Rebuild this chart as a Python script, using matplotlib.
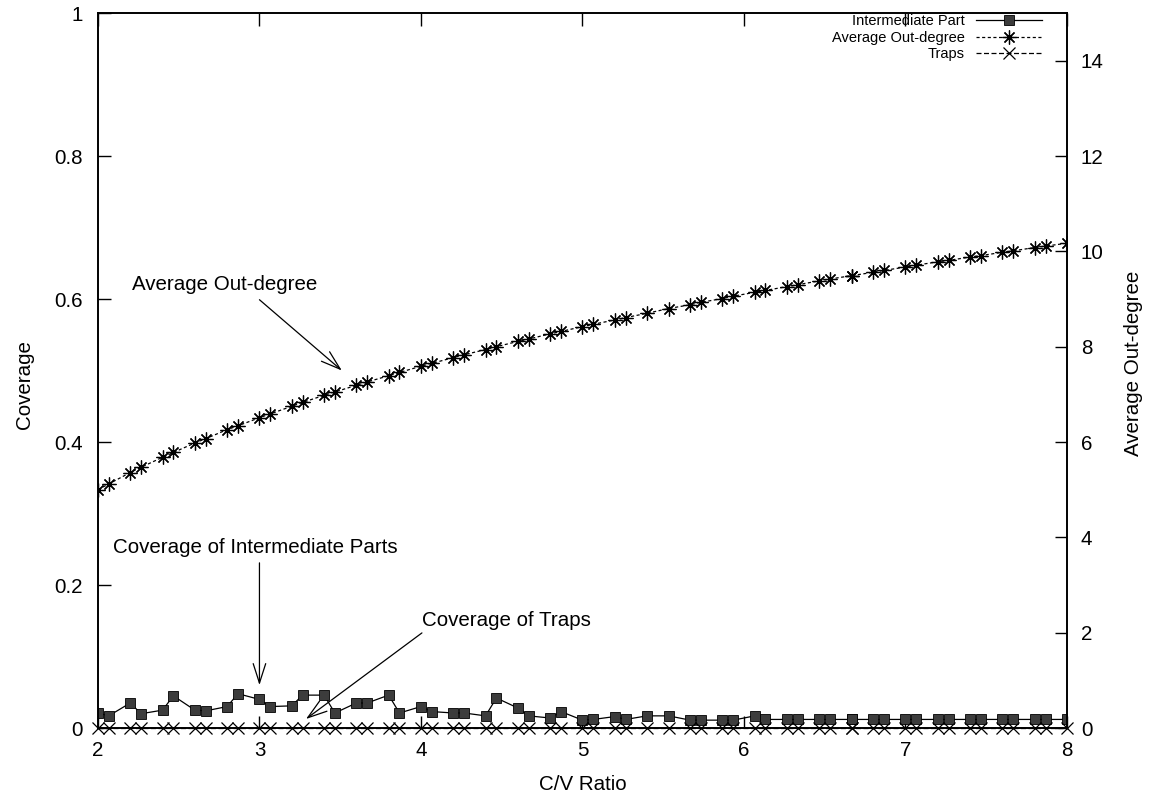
import matplotlib.pyplot as plt

plt.rcParams['font.family'] = ['Liberation Sans', 'DejaVu Sans']

# C/V ratio of each sample
ratio = [2.0, 2.067, 2.2, 2.267, 2.4, 2.467, 2.6, 2.667, 2.8, 2.867,
         3.0, 3.067, 3.2, 3.267, 3.4, 3.467, 3.6, 3.667, 3.8, 3.867,
         4.0, 4.067, 4.2, 4.267, 4.4, 4.467, 4.6, 4.667, 4.8, 4.867,
         5.0, 5.067, 5.2, 5.267, 5.4, 5.533, 5.667, 5.733, 5.867, 5.933,
         6.067, 6.133, 6.267, 6.333, 6.467, 6.533, 6.667, 6.667, 6.8, 6.867,
         7.0, 7.067, 7.2, 7.267, 7.4, 7.467, 7.6, 7.667, 7.8, 7.867,
         8.0]

# coverage of intermediate parts
inter_cov = [0.021, 0.017, 0.035, 0.020, 0.025, 0.045, 0.025, 0.024, 0.030, 0.048,
             0.040, 0.030, 0.031, 0.046, 0.046, 0.021, 0.035, 0.035, 0.046, 0.021,
             0.030, 0.023, 0.021, 0.021, 0.017, 0.042, 0.028, 0.017, 0.014, 0.023,
             0.011, 0.012, 0.016, 0.012, 0.017, 0.017, 0.011, 0.011, 0.011, 0.011,
             0.017, 0.012, 0.012, 0.012, 0.012, 0.012, 0.012, 0.012, 0.012, 0.012,
             0.012, 0.012, 0.012, 0.012, 0.012, 0.012, 0.012, 0.012, 0.012, 0.012,
             0.012]

# coverage of traps
trap_cov = [0.0, 0.0, 0.0, 0.0, 0.0, 0.0, 0.0, 0.0, 0.0, 0.0,
            0.0, 0.0, 0.0, 0.0, 0.0, 0.0, 0.0, 0.0, 0.0, 0.0,
            0.0, 0.0, 0.0, 0.0, 0.0, 0.0, 0.0, 0.0, 0.0, 0.0,
            0.0, 0.0, 0.0, 0.0, 0.0, 0.0, 0.0, 0.0, 0.0, 0.0,
            0.0, 0.0, 0.0, 0.0, 0.0, 0.0, 0.0, 0.0, 0.0, 0.0,
            0.0, 0.0, 0.0, 0.0, 0.0, 0.0, 0.0, 0.0, 0.0, 0.0,
            0.0]

# average out-degree (right axis)
out_degree = [5.00, 5.12, 5.36, 5.47, 5.68, 5.78, 5.98, 6.07, 6.26, 6.34,
              6.51, 6.59, 6.75, 6.83, 6.98, 7.05, 7.19, 7.26, 7.39, 7.46,
              7.59, 7.65, 7.77, 7.83, 7.94, 8.00, 8.11, 8.16, 8.27, 8.32,
              8.42, 8.47, 8.56, 8.61, 8.70, 8.80, 8.88, 8.93, 9.01, 9.06,
              9.14, 9.18, 9.26, 9.30, 9.38, 9.42, 9.49, 9.49, 9.56, 9.60,
              9.67, 9.71, 9.78, 9.81, 9.88, 9.91, 9.98, 10.01, 10.08, 10.11,
              10.17]

FS = 14.8

fig = plt.figure(figsize=(11.55, 7.98), dpi=100)
ax = fig.add_axes([0.0848, 0.0877, 0.839, 0.896])
ax2 = ax.twinx()

l1, = ax.plot(ratio, inter_cov, color='black', linewidth=0.9,
              marker='s', markersize=7, markerfacecolor='#3c3c3c',
              markeredgecolor='black', markeredgewidth=0.6,
              label='Intermediate Part')
l3, = ax.plot(ratio, trap_cov, color='black', linewidth=0.9,
              dashes=(4, 2), marker='x', markersize=8, markeredgewidth=0.9,
              label='Traps', clip_on=False)
l2, = ax2.plot(ratio, out_degree, color='black', linewidth=0.9,
               dashes=(2.5, 2), marker=(8, 2, 0), markersize=10,
               markeredgewidth=0.9, label='Average Out-degree')

ax.set_xlim(2, 8)
ax.set_ylim(0, 1)
ax2.set_ylim(0, 15)
ax.set_xticks([2, 3, 4, 5, 6, 7, 8])
ax.set_yticks([0, 0.2, 0.4, 0.6, 0.8, 1])
ax.set_yticklabels(['0', '0.2', '0.4', '0.6', '0.8', '1'])
ax2.set_yticks([0, 2, 4, 6, 8, 10, 12, 14])

ax.tick_params(axis='x', direction='in', length=9, width=1, top=True,
               labelsize=FS, pad=9)
ax.tick_params(axis='y', direction='in', length=9, width=1, right=False,
               labelsize=FS, pad=11)
ax2.tick_params(axis='y', direction='in', length=9, width=1,
                labelsize=FS, pad=10)
for a in (ax, ax2):
    for s in a.spines.values():
        s.set_linewidth(1.2)

ax.set_xlabel('C/V Ratio', fontsize=FS)
ax.xaxis.set_label_coords(0.5, -0.066)
ax.set_ylabel('Coverage', fontsize=FS)
ax.yaxis.set_label_coords(-0.066, 0.48)
ax2.set_ylabel('Average Out-degree', fontsize=FS)
ax2.yaxis.set_label_coords(1.059, 0.51)

arrow = dict(arrowstyle='->,head_length=1.4,head_width=0.45',
             color='black', linewidth=0.9, shrinkA=0, shrinkB=0)

ax.text(2.21, 0.62, 'Average Out-degree', fontsize=FS, va='center')
ax.annotate('', xy=(3.51, 0.50), xytext=(3.0, 0.599), arrowprops=arrow)

ax.text(2.093, 0.252, 'Coverage of Intermediate Parts', fontsize=FS,
        va='center')
ax.annotate('', xy=(3.0, 0.060), xytext=(3.0, 0.231), arrowprops=arrow)

ax.text(4.006, 0.151, 'Coverage of Traps', fontsize=FS, va='center')
ax.annotate('', xy=(3.288, 0.0126), xytext=(4.006, 0.133), arrowprops=arrow)

ax.legend(handles=[l1, l2, l3], loc='upper right',
          bbox_to_anchor=(0.974, 0.998), frameon=False, markerfirst=False,
          fontsize=10.5, handlelength=4.5, handletextpad=0.8,
          labelspacing=0.15, borderpad=0, borderaxespad=0)

fig.savefig('out.png', dpi=100)
